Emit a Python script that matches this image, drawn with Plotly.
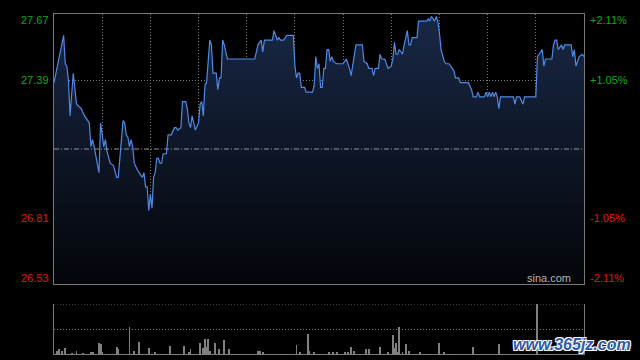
import plotly.graph_objects as go

# ---- price line (minutes since open, HK session: 330 trading minutes) ----
minutes = [0, 6, 7, 8, 9, 10, 12, 14, 17, 19, 21, 22, 23, 24, 25, 28, 29, 31, 32, 33,
           35, 37, 39, 40, 43, 44, 45, 46, 47, 48, 49, 50, 52, 54, 55, 56, 57, 58, 59, 60,
           61, 62, 63, 64, 65, 66, 67, 68, 70, 71, 73, 75, 76, 77, 79, 80, 82, 83, 84, 85,
           86, 87, 88, 90, 91, 92, 93, 94, 95, 97, 98, 99, 101, 102, 103, 104, 105, 106, 108, 125,
           127, 129, 130, 131, 136, 137, 139, 140, 141, 143, 145, 149, 150, 151, 152, 153, 154, 156, 157, 161,
           162, 163, 164, 165, 166, 167, 168, 169, 170, 171, 172, 173, 174, 176, 180, 182, 184, 185, 186, 188,
           192, 193, 195, 196, 198, 199, 200, 202, 203, 204, 206, 208, 210, 211, 212, 213, 214, 215, 217, 218,
           220, 221, 222, 223, 226, 227, 232, 233, 234, 235, 236, 237, 238, 239, 240, 241, 243, 244, 246, 248,
           249, 250, 252, 253, 258, 260, 261, 263, 264, 265, 268, 269, 270, 271, 272, 273, 274, 275, 276, 277,
           278, 286, 287, 288, 290, 292, 293, 300, 301, 302, 304, 305, 306, 310, 311, 312, 313, 314, 316, 317,
           318, 322, 323, 324, 325, 327, 329, 330]
prices = [27.38, 27.58, 27.46, 27.45, 27.39, 27.24, 27.42, 27.29, 27.27, 27.24, 27.22, 27.21, 27.11, 27.14, 27.11, 27.00, 27.21, 27.11, 27.14, 27.09,
          27.04, 27.03, 26.98, 26.98, 27.22, 27.21, 27.16, 27.15, 27.11, 27.14, 27.11, 27.04, 27.01, 26.99, 26.98, 27.00, 26.94, 26.94, 26.84, 26.91,
          26.85, 26.98, 27.00, 27.06, 27.06, 27.04, 27.04, 27.08, 27.08, 27.16, 27.16, 27.19, 27.19, 27.18, 27.19, 27.30, 27.30, 27.27, 27.21, 27.19,
          27.24, 27.21, 27.18, 27.21, 27.29, 27.30, 27.24, 27.37, 27.38, 27.56, 27.54, 27.42, 27.42, 27.35, 27.40, 27.40, 27.56, 27.54, 27.48, 27.48,
          27.54, 27.56, 27.51, 27.56, 27.56, 27.60, 27.56, 27.57, 27.56, 27.56, 27.58, 27.58, 27.45, 27.40, 27.42, 27.42, 27.36, 27.36, 27.34, 27.34,
          27.37, 27.49, 27.44, 27.46, 27.36, 27.36, 27.44, 27.44, 27.52, 27.52, 27.47, 27.49, 27.47, 27.46, 27.46, 27.48, 27.44, 27.41, 27.46, 27.54,
          27.54, 27.47, 27.46, 27.44, 27.44, 27.41, 27.44, 27.44, 27.50, 27.48, 27.48, 27.44, 27.45, 27.48, 27.55, 27.50, 27.50, 27.52, 27.50, 27.54,
          27.60, 27.54, 27.54, 27.57, 27.57, 27.64, 27.64, 27.65, 27.64, 27.66, 27.65, 27.64, 27.66, 27.64, 27.59, 27.52, 27.47, 27.46, 27.46, 27.44,
          27.43, 27.40, 27.40, 27.38, 27.38, 27.35, 27.32, 27.32, 27.34, 27.32, 27.32, 27.34, 27.32, 27.34, 27.32, 27.34, 27.32, 27.34, 27.32, 27.27,
          27.32, 27.32, 27.29, 27.32, 27.32, 27.29, 27.32, 27.32, 27.49, 27.50, 27.52, 27.45, 27.48, 27.48, 27.54, 27.56, 27.56, 27.52, 27.54, 27.52,
          27.54, 27.54, 27.49, 27.52, 27.45, 27.49, 27.50, 27.49]

# ---- volume (relative units, panel top = 51) ----
vol_minutes = [2, 3, 5, 7, 11, 14, 18, 23, 24, 28, 29, 30, 39, 40, 47, 50, 53, 59, 63, 72,
               81, 84, 85, 91, 93, 94, 95, 96, 97, 100, 103, 106, 109, 127, 128, 130, 151, 153, 158, 159,
               162, 171, 174, 176, 181, 183, 185, 187, 194, 196, 203, 208, 211, 212, 213, 214, 215, 217, 219, 221,
               228, 240, 243, 261, 277, 301]
vol_values = [4, 5.7, 4, 7.3, 2, 4, 2, 3.3, 3.3, 12.3, 11, 3.3, 8.3, 6.3, 28.3, 4, 13.3, 7.3, 3.3, 9,
              9, 3.3, 6.3, 12.3, 7.3, 15.7, 8.3, 15.7, 4.3, 12.3, 6, 15, 6.3, 4.3, 4.3, 3.3, 10, 3.3, 21, 4.3,
              2.7, 2.7, 2.7, 2.7, 3.3, 2.7, 7.7, 4.3, 6.3, 6.3, 8.3, 2.7, 20, 7.3, 12.3, 3.3, 28.3, 3.3, 11, 4.3,
              2.7, 11.7, 3.3, 8.3, 11, 51]
small_vol = 1.0  # the many tiny minute bars

prev_close = 27.10
y_min, y_max = 26.53, 27.67
left_ticks = [27.67, 27.39, 26.81, 26.53]
left_text = ["27.67", "27.39", "26.81", "26.53"]
right_text = ["+2.11%", "+1.05%", "-1.05%", "-2.11%"]
tick_colors = ["#14a814", "#14a814", "#e81010", "#e81010"]
label_shift = [-6, 0, 0, 6]

all_min = list(range(0, 331))
vol_full = [small_vol] * len(all_min)
for m, v in zip(vol_minutes, vol_values):
    vol_full[m] = v

GRID = "rgb(120,120,120)"
FRAME = "rgb(120,120,120)"
DOT = "1px,2px"

fig = go.Figure()
fig.add_trace(go.Scatter(
    x=minutes, y=prices, mode="lines",
    line=dict(color="#5089e6", width=1.2),
    fill="tozeroy",
    fillgradient=dict(type="vertical",
                      colorscale=[[0, "rgb(3,5,9)"], [1, "rgb(25,40,70)"]],
                      start=y_min, stop=y_max),
    hoverinfo="skip", xaxis="x", yaxis="y"))
fig.add_trace(go.Bar(
    x=all_min, y=vol_full, width=0.6,
    marker=dict(color="rgb(128,128,128)", line=dict(width=0)),
    hoverinfo="skip", xaxis="x2", yaxis="y2"))

main_bottom = 71 / 341
vol_top = 51 / 341

fig.update_layout(
    width=640, height=360,
    paper_bgcolor="black", plot_bgcolor="black",
    margin=dict(l=54, r=56, t=14, b=5),
    showlegend=False, bargap=0,
    xaxis=dict(domain=[0, 1], range=[0, 330], anchor="y",
               tickvals=list(range(30, 330, 30)), showticklabels=False, ticks="",
               showgrid=True, gridcolor=GRID, griddash=DOT, gridwidth=1,
               showline=True, mirror=True, linecolor=FRAME, linewidth=1, zeroline=False),
    yaxis=dict(domain=[main_bottom, 1], range=[y_min, y_max], anchor="x",
               tickvals=[26.81, 27.39], showticklabels=False, ticks="",
               showgrid=True, gridcolor=GRID, griddash=DOT, gridwidth=1,
               showline=True, mirror=True, linecolor=FRAME, linewidth=1, zeroline=False),
    xaxis2=dict(domain=[0, 1], range=[0, 330], anchor="y2",
                showticklabels=False, ticks="", showgrid=False, showline=False, zeroline=False),
    yaxis2=dict(domain=[0, vol_top], range=[0, 51], anchor="x2",
                showticklabels=False, ticks="", showgrid=False,
                showline=True, mirror=True, linecolor=FRAME, linewidth=1, zeroline=False),
)

shapes = [
    dict(type="line", xref="x domain", yref="y", x0=0, x1=1, y0=prev_close, y1=prev_close,
         line=dict(color="rgb(150,150,150)", width=1, dash="5px,2px,1px,2px")),
]
for yv in [51, 25.5, 0.2]:
    shapes.append(dict(type="line", xref="x2 domain", yref="y2", x0=0, x1=1, y0=yv, y1=yv,
                       line=dict(color=GRID, width=1, dash=DOT)))
fig.update_layout(shapes=shapes)

ann = []
for val, lt, rt, col, sh in zip(left_ticks, left_text, right_text, tick_colors, label_shift):
    ann.append(dict(xref="paper", yref="y", x=0, y=val, text=lt, showarrow=False,
                    xanchor="right", yanchor="middle", xshift=-3, yshift=sh,
                    font=dict(family="Arial, Liberation Sans", size=11, color=col)))
    ann.append(dict(xref="paper", yref="y", x=1, y=val, text=rt, showarrow=False,
                    xanchor="left", yanchor="middle", xshift=4, yshift=sh,
                    font=dict(family="Arial, Liberation Sans", size=11, color=col)))
ann.append(dict(xref="paper", yref="y", x=0.98, y=y_min, text="sina.com", showarrow=False,
                xanchor="right", yanchor="middle", yshift=6,
                font=dict(family="Arial, Liberation Sans", size=11, color="#b4b4b4")))
ann.append(dict(xref="paper", yref="paper", x=1.092, y=0.03, text="<b><i>www.365jz.com</i></b>",
                showarrow=False, xanchor="right", yanchor="middle",
                font=dict(family="Arial, Liberation Sans", size=16, color="#2f5aa8",
                          shadow="-1px -1px 0 #fff, 1px -1px 0 #fff, -1px 1px 0 #fff, 1px 1px 0 #fff")))
fig.update_layout(annotations=ann)

fig.write_html("out.html", config={"displayModeBar": False},
               post_script="document.body.style.margin='0';document.body.style.background='black';")
